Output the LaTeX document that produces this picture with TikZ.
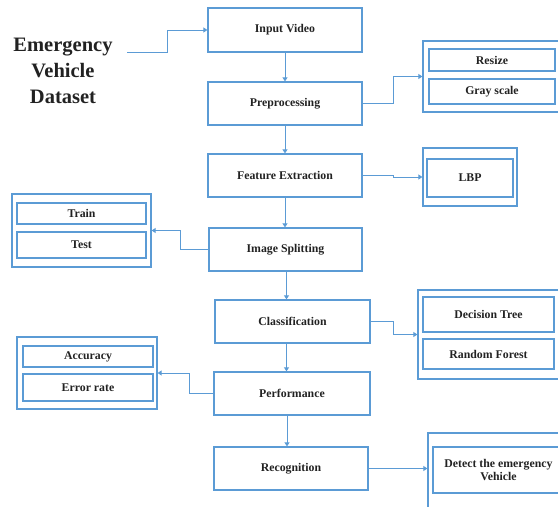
\documentclass[tikz,border=0pt]{standalone}
\usepackage{fontspec}
\setmainfont{Liberation Serif}
\usetikzlibrary{arrows.meta,positioning}
\definecolor{eblue}{RGB}{91,155,213}
\definecolor{etext}{RGB}{34,34,34}
\begin{document}
\begin{tikzpicture}[x=1pt,y=-1pt,
  bx/.style={draw=eblue, line width=1.2pt, inner sep=0pt, font=\bfseries\fontsize{11.8}{13.5}\selectfont, text=etext, align=center, rectangle},
  grp/.style={draw=eblue, line width=1.2pt, inner sep=0pt, rectangle},
  conn/.style={draw=eblue, line width=0.9pt, -{Triangle[width=5pt,length=4pt]}}
]
\useasboundingbox (0,0) rectangle (558,507);
\newcommand{\boxat}[6]{% name, x1,y1,x2,y2, text
  \node[bx, minimum width={#4-#2}, minimum height={#5-#3}] (#1) at ({(#2+#4)/2},{(#3+#5)/2}) {#6};}
\newcommand{\grpat}[5]{%
  \node[grp, minimum width={#4-#2}, minimum height={#5-#3}] (#1) at ({(#2+#4)/2},{(#3+#5)/2}) {};}

% dataset text
\node[font=\bfseries\fontsize{20.5}{26}\selectfont, text=etext, align=center] (ds) at (63,71) {Emergency\\Vehicle\\Dataset};
\coordinate (dsout) at (127,52);

% main column
\boxat{inp}{208}{8}{362}{52}{Input Video}
\boxat{pre}{208}{82}{362}{125}{Preprocessing}
\boxat{fe}{208}{154}{362}{197}{Feature Extraction}
\boxat{is}{209}{228}{362}{271}{Image Splitting}
\boxat{cls}{215}{300}{370}{343}{Classification}
\boxat{perf}{214}{372}{370}{415}{Performance}
\boxat{rec}{214}{447}{368}{490}{Recognition}

% side groups
\grpat{g1}{423}{41}{560}{112}
\boxat{rs}{429}{49}{555}{71}{Resize}
\boxat{gs}{429}{79}{555}{104}{Gray scale}

\grpat{g2}{423}{148}{517}{206}
\boxat{lbp}{427}{159}{513}{197}{LBP}

\grpat{g3}{12}{194}{151}{267}
\boxat{tr}{17}{203}{146}{224}{Train}
\boxat{te}{17}{232}{146}{258}{Test}

\grpat{g4}{418}{290}{560}{379}
\boxat{dt}{423}{297}{554}{332}{Decision Tree}
\boxat{rf}{423}{339}{554}{369}{Random Forest}

\grpat{g5}{17}{337}{157}{409}
\boxat{acc}{23}{346}{153}{367}{Accuracy}
\boxat{err}{23}{374}{153}{401}{Error rate}

\grpat{g6}{428}{433}{570}{522}
\boxat{det}{433}{447}{564}{493}{Detect the emergency\\Vehicle}

% vertical connectors
\draw[conn] (inp.south) -- (inp.south |- pre.north);
\draw[conn] (pre.south) -- (pre.south |- fe.north);
\draw[conn] (fe.south) -- (fe.south |- is.north);
\draw[conn] ([xshift=1pt]is.south) -- ([xshift=1pt]is.south |- cls.north);
\draw[conn] ([xshift=-6pt]cls.south) -- ([xshift=-6pt]cls.south |- perf.north);
\draw[conn] ([xshift=-5pt]perf.south) -- ([xshift=-5pt]perf.south |- rec.north);

% side connectors
\draw[conn] (dsout) -- (167,52) |- (inp.west);
\draw[conn] (pre.east) -- ++(31,0) |- (g1.west);
\draw[conn] (fe.east) -- ++(31,0) |- (g2.west);
\draw[conn] (is.west) -- ++(-28,0) |- (g3.east);
\draw[conn] (cls.east) -- ++(23,0) |- (g4.west);
\draw[conn] (perf.west) -- ++(-24,0) |- (g5.east);
\draw[conn] (rec.east) -- (g6.west |- rec.east);
\end{tikzpicture}
\end{document}
